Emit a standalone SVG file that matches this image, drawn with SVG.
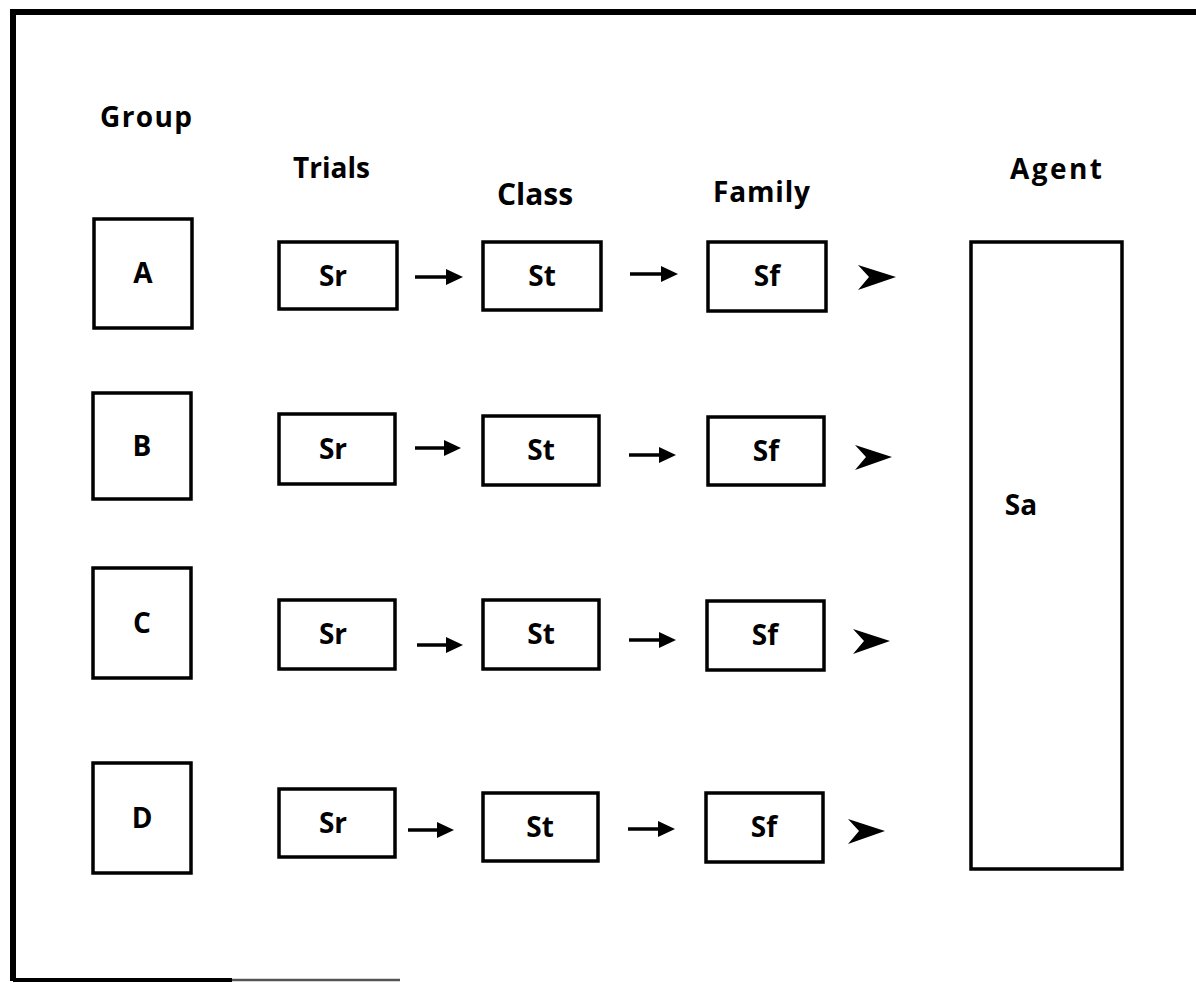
<svg xmlns="http://www.w3.org/2000/svg" width="1196" height="983" viewBox="0 0 1196 983">
<style>
  .frame { fill: none; stroke: #000; stroke-width: 6; }
  .box { fill: #fff; stroke: #000; stroke-width: 3.5; }
  .t { font-family: "Open Sans", "Noto Sans", "DejaVu Sans", sans-serif; font-weight: 700; font-size: 28px; fill: #000; }
  .c { text-anchor: middle; }
  .shaft { stroke: #000; stroke-width: 3.5; fill: none; }
  .head { fill: #000; }
</style>
<rect width="1196" height="983" fill="#fff"/>
<g id="frame">
  <path class="frame" d="M1196,12 L13,12 L13,981"/>
  <line x1="13" y1="980" x2="232" y2="980" stroke="#000" stroke-width="4"/>
  <line x1="232" y1="980" x2="400" y2="980" stroke="#555" stroke-width="2.5"/>
</g>
<g id="headers">
  <text class="t" x="100" y="127" textLength="92" lengthAdjust="spacing">Group</text>
  <text class="t" x="293" y="178" textLength="77" lengthAdjust="spacing">Trials</text>
  <text class="t c" x="535" y="205" style="font-size:30px">Class</text>
  <text class="t" x="713" y="202" textLength="97" lengthAdjust="spacing">Family</text>
  <text class="t" x="1010" y="179" textLength="92" lengthAdjust="spacing">Agent</text>
</g>
<g id="group-A"><rect class="box" x="94" y="219" width="98" height="109"/><text class="t c" x="143" y="283">A</text></g>
<g id="group-B"><rect class="box" x="93" y="393" width="98" height="106"/><text class="t c" x="142" y="456">B</text></g>
<g id="group-C"><rect class="box" x="93" y="568" width="98" height="110"/><text class="t c" x="142" y="633">C</text></g>
<g id="group-D"><rect class="box" x="93" y="763" width="98" height="110"/><text class="t c" x="142" y="828">D</text></g>

<g id="trials-A"><rect class="box" x="279" y="242" width="118" height="67"/><text class="t c" x="333" y="286">Sr</text></g>
<g id="trials-B"><rect class="box" x="279" y="414" width="116" height="70"/><text class="t c" x="333" y="459">Sr</text></g>
<g id="trials-C"><rect class="box" x="279" y="600" width="116" height="69"/><text class="t c" x="333" y="644">Sr</text></g>
<g id="trials-D"><rect class="box" x="279" y="789" width="116" height="68"/><text class="t c" x="333" y="833">Sr</text></g>

<g id="class-A"><rect class="box" x="483" y="242" width="118" height="68"/><text class="t c" x="542" y="286">St</text></g>
<g id="class-B"><rect class="box" x="483" y="416" width="116" height="69"/><text class="t c" x="541" y="460">St</text></g>
<g id="class-C"><rect class="box" x="483" y="600" width="116" height="69"/><text class="t c" x="541" y="644">St</text></g>
<g id="class-D"><rect class="box" x="483" y="793" width="115" height="68"/><text class="t c" x="540" y="837">St</text></g>

<g id="family-A"><rect class="box" x="708" y="242" width="118" height="69"/><text class="t c" x="767" y="286">Sf</text></g>
<g id="family-B"><rect class="box" x="708" y="417" width="116" height="68"/><text class="t c" x="766" y="461">Sf</text></g>
<g id="family-C"><rect class="box" x="707" y="601" width="117" height="69"/><text class="t c" x="765" y="645">Sf</text></g>
<g id="family-D"><rect class="box" x="706" y="793" width="117" height="69"/><text class="t c" x="764" y="837">Sf</text></g>

<g id="agent"><rect class="box" x="971" y="242" width="151" height="627"/><text class="t c" x="1021" y="515">Sa</text></g>

<g id="connectors">
  <!-- row A -->
  <line class="shaft" x1="415" y1="277" x2="449" y2="277"/><path class="head" d="M446,269 L463,277 L446,285 Z"/>
  <line class="shaft" x1="630" y1="274" x2="664" y2="274"/><path class="head" d="M661,266 L678,274 L661,282 Z"/>
  <path class="head" d="M858,265 L896,277 L858,290 L869,277 Z"/>
  <!-- row B -->
  <line class="shaft" x1="415" y1="448" x2="447" y2="448"/><path class="head" d="M444,440 L461,448 L444,456 Z"/>
  <line class="shaft" x1="629" y1="455" x2="662" y2="455"/><path class="head" d="M659,447 L676,455 L659,463 Z"/>
  <path class="head" d="M855,445 L892,457 L855,470 L866,457 Z"/>
  <!-- row C -->
  <line class="shaft" x1="417" y1="645" x2="449" y2="645"/><path class="head" d="M446,637 L463,645 L446,653 Z"/>
  <line class="shaft" x1="629" y1="640" x2="662" y2="640"/><path class="head" d="M659,632 L676,640 L659,648 Z"/>
  <path class="head" d="M853,629 L890,641 L853,654 L864,641 Z"/>
  <!-- row D -->
  <line class="shaft" x1="408" y1="830" x2="440" y2="830"/><path class="head" d="M437,822 L454,830 L437,838 Z"/>
  <line class="shaft" x1="628" y1="829" x2="661" y2="829"/><path class="head" d="M658,821 L675,829 L658,837 Z"/>
  <path class="head" d="M848,819 L885,831 L848,844 L859,831 Z"/>
</g>
</svg>
